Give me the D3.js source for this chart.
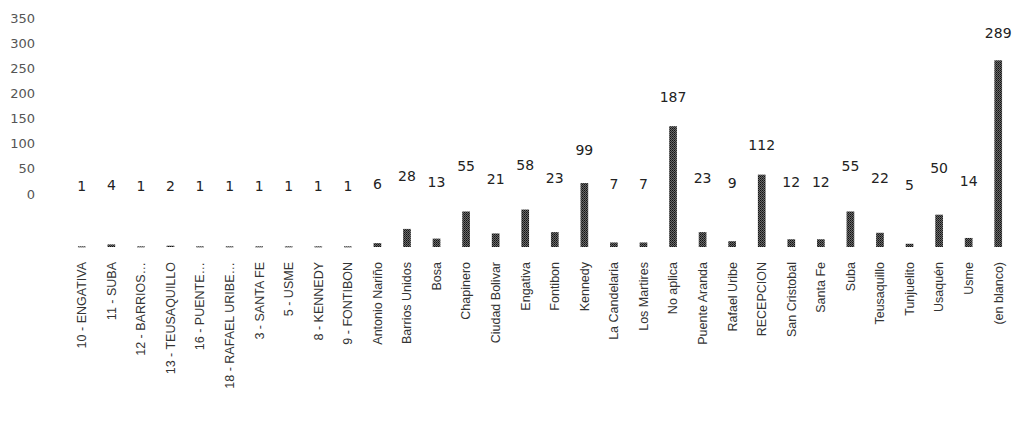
<!DOCTYPE html>
<html>
<head>
<meta charset="utf-8">
<script src="https://cdn.jsdelivr.net/npm/d3@7/dist/d3.min.js"></script>
<style>
  html, body { margin: 0; padding: 0; background: #fff; }
  svg { display: block; }
  text { font-family: "DejaVu Sans", sans-serif; }
  .cat { font-family: "Liberation Sans", Arial, sans-serif; }
</style>
</head>
<body>
<div id="chart"></div>
<script>
// Casos por localidad
const categories = [
  "10 - ENGATIVA", "11 - SUBA", "12 - BARRIOS…", "13 - TEUSAQUILLO", "16 - PUENTE…",
  "18 - RAFAEL URIBE…", "3 - SANTA FE", "5 - USME", "8 - KENNEDY", "9 - FONTIBON",
  "Antonio Nariño", "Barrios Unidos", "Bosa", "Chapinero", "Ciudad Bolivar",
  "Engativa", "Fontibon", "Kennedy", "La Candelaria", "Los Martires",
  "No aplica", "Puente Aranda", "Rafael Uribe", "RECEPCION", "San Cristobal",
  "Santa Fe", "Suba", "Teusaquillo", "Tunjuelito", "Usaquén", "Usme", "(en blanco)"
];
const values = [
  1, 4, 1, 2, 1, 1, 1, 1, 1, 1,
  6, 28, 13, 55, 21, 58, 23, 99, 7, 7,
  187, 23, 9, 112, 12, 12, 55, 22, 5, 50, 14, 289
];
const yTicks = [0, 50, 100, 150, 200, 250, 300, 350];

const W = 1020, H = 444;
const data = categories.map((c, i) => ({ cat: c, val: values[i] }));

const svg = d3.select("#chart").append("svg")
  .attr("width", W).attr("height", H);

// dithered fill for the bars
const defs = svg.append("defs");
const pat = defs.append("pattern")
  .attr("id", "dither").attr("patternUnits", "userSpaceOnUse")
  .attr("width", 2).attr("height", 2);
pat.append("rect").attr("width", 2).attr("height", 2).attr("fill", "#6a6a6a");
pat.append("rect").attr("width", 1).attr("height", 1).attr("fill", "#111");
pat.append("rect").attr("x", 1).attr("y", 1).attr("width", 1).attr("height", 1).attr("fill", "#2a2a2a");

const x = d3.scaleBand()
  .domain(categories)
  .range([67, 1013])
  .paddingInner(0.74)
  .paddingOuter(0.37);

// bar heights
const yBar = d3.scaleLinear().domain([0, 350]).range([247, 247 - 350 * 0.646]);
// tick label column
const yAxis = d3.scaleLinear().domain([0, 350]).range([194, 18]);
// value label placement above the bars
const yLabel = d3.scaleLinear().domain([0, 112, 350]).range([186.5, 145, -6]);

// y tick labels
svg.append("g").selectAll("text")
  .data(yTicks)
  .join("text")
  .attr("x", 35)
  .attr("y", d => yAxis(d))
  .attr("dy", "0.35em")
  .attr("text-anchor", "end")
  .attr("font-size", 13)
  .attr("fill", "#555")
  .text(d => d);

// bars
svg.append("g").selectAll("rect")
  .data(data)
  .join("rect")
  .attr("x", d => x(d.cat))
  .attr("width", x.bandwidth())
  .attr("y", d => yBar(d.val))
  .attr("height", d => Math.max(1, yBar(0) - yBar(d.val)))
  .attr("fill", "url(#dither)");

// value labels
svg.append("g").selectAll("text")
  .data(data)
  .join("text")
  .attr("x", d => x(d.cat) + x.bandwidth() / 2)
  .attr("y", d => yLabel(d.val))
  .attr("dy", "0.35em")
  .attr("text-anchor", "middle")
  .attr("font-size", 14)
  .attr("fill", "#222")
  .text(d => d.val);

// category labels, rotated
svg.append("g").selectAll("text")
  .data(data)
  .join("text")
  .attr("class", "cat")
  .attr("transform", d => `translate(${x(d.cat) + x.bandwidth() / 2},262) rotate(-90)`)
  .attr("dy", "0.35em")
  .attr("text-anchor", "end")
  .attr("font-size", 12.5)
  .attr("fill", "#333")
  .text(d => d.cat);
</script>
</body>
</html>
